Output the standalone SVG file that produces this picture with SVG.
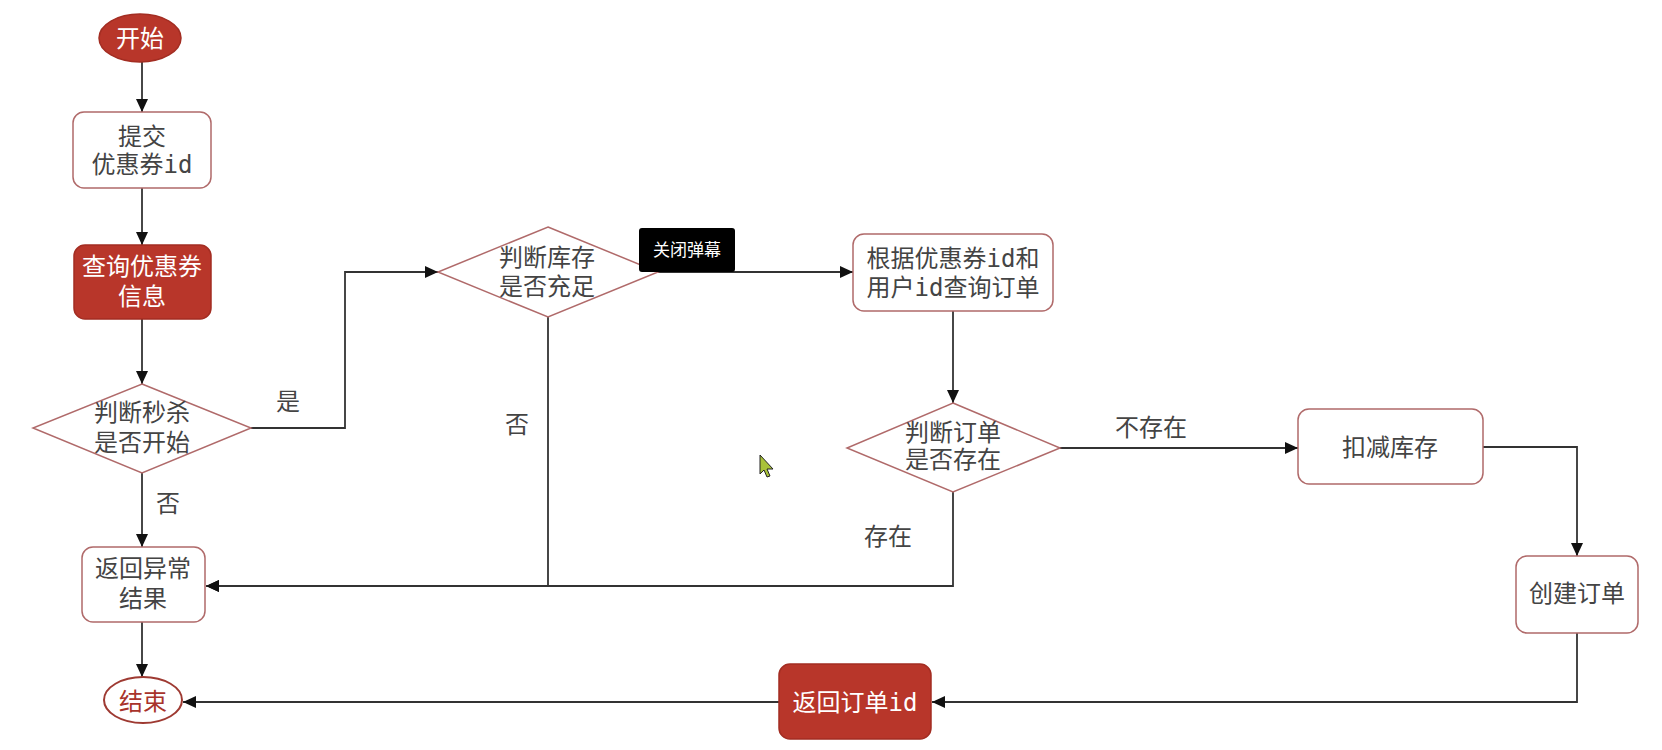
<svg xmlns="http://www.w3.org/2000/svg" width="1662" height="750" viewBox="0 0 1662 750">
<defs>
<marker id="arr" markerUnits="userSpaceOnUse" markerWidth="14" markerHeight="14" viewBox="0 0 14 14" refX="13" refY="7" orient="auto">
<path d="M0,1 L13,7 L0,13 z" fill="#111"/>
</marker>
<style>
text{font-family:"DejaVu Sans Mono","Noto Sans CJK SC",monospace;font-size:24px;fill:#444;text-anchor:middle}
.w{fill:#fff}
.r{fill:#a8332b}
.box{fill:#fff;stroke:#b06a6a;stroke-width:1.5}
.red{fill:#b8362a;stroke:#a32d22;stroke-width:1.5}
.edge{fill:none;stroke:#333;stroke-width:1.8;marker-end:url(#arr)}
.lbl{font-family:"Noto Sans CJK SC",sans-serif}
</style>
</defs>
<rect width="1662" height="750" fill="#fff"/>
<g id="connectors">
<path class="edge" d="M142,62 V112"/>
<path class="edge" d="M142,188 V245"/>
<path class="edge" d="M142,319 V384"/>
<path class="edge" d="M142,473 V547"/>
<path class="edge" d="M251,428 H345 V272 H438"/>
<path class="edge" d="M658,272 H853"/>
<path class="edge" d="M548,317 V586 H206"/>
<path class="edge" d="M953,311 V403"/>
<path class="edge" d="M1060,448 H1298"/>
<path class="edge" d="M953,492 V586 H206"/>
<path class="edge" d="M1483,447 H1577 V556"/>
<path class="edge" d="M1577,633 V702 H932"/>
<path class="edge" d="M779,702 H183"/>
<path class="edge" d="M142,622 V677"/>
<text class="lbl" x="288" y="410">是</text>
<text class="lbl" x="168" y="512">否</text>
<text class="lbl" x="517" y="433">否</text>
<text class="lbl" x="1151" y="436">不存在</text>
<text class="lbl" x="888" y="545">存在</text>
</g>
<g id="start">
<ellipse class="red" cx="140" cy="38" rx="41" ry="24"/>
<text class="w" x="140" y="47">开始</text>
</g>
<g id="submit">
<rect class="box" x="73" y="112" width="138" height="76" rx="11"/>
<text x="142" y="145">提交</text>
<text x="142" y="173">优惠券id</text>
</g>
<g id="query">
<rect class="red" x="74" y="245" width="137" height="74" rx="11"/>
<text class="w" x="142" y="275">查询优惠券</text>
<text class="w" x="142" y="305">信息</text>
</g>
<g id="check-start">
<polygon class="box" points="142,384 251,428 142,473 33,428"/>
<text x="142" y="421">判断秒杀</text>
<text x="142" y="451">是否开始</text>
</g>
<g id="return-error">
<rect class="box" x="82" y="547" width="123" height="75" rx="11"/>
<text x="143" y="577">返回异常</text>
<text x="143" y="607">结果</text>
</g>
<g id="end">
<ellipse cx="143" cy="700" rx="39" ry="23" fill="#fff" stroke="#9e3a32" stroke-width="2"/>
<text class="r" x="143" y="710">结束</text>
</g>
<g id="check-stock">
<polygon class="box" points="548,227 658,272 548,317 438,272"/>
<text x="547" y="266">判断库存</text>
<text x="547" y="295">是否充足</text>
</g>
<g id="query-order">
<rect class="box" x="853" y="234" width="200" height="77" rx="11"/>
<text x="953" y="267">根据优惠券id和</text>
<text x="953" y="296">用户id查询订单</text>
</g>
<g id="check-order">
<polygon class="box" points="953,403 1060,448 953,492 847,448"/>
<text x="953" y="441">判断订单</text>
<text x="953" y="468">是否存在</text>
</g>
<g id="deduct">
<rect class="box" x="1298" y="409" width="185" height="75" rx="11"/>
<text x="1390" y="456">扣减库存</text>
</g>
<g id="create">
<rect class="box" x="1516" y="556" width="122" height="77" rx="11"/>
<text x="1577" y="602">创建订单</text>
</g>
<g id="return-id">
<rect class="red" x="779" y="664" width="152" height="75" rx="11"/>
<text class="w" x="855" y="711">返回订单id</text>
</g>
<g id="popup">
<rect x="639" y="228" width="96" height="44" rx="3" fill="#000"/>
<text x="687" y="256" style="font-family:'Noto Sans CJK SC',sans-serif;font-size:17px;fill:#fff">关闭弹幕</text>
</g>
<g id="cursor">
<polygon points="760,455 760,474 764,470 767,477 770,476 767,469 773,469" fill="#a9c23a" stroke="#222" stroke-width="1"/>
</g>
</svg>
